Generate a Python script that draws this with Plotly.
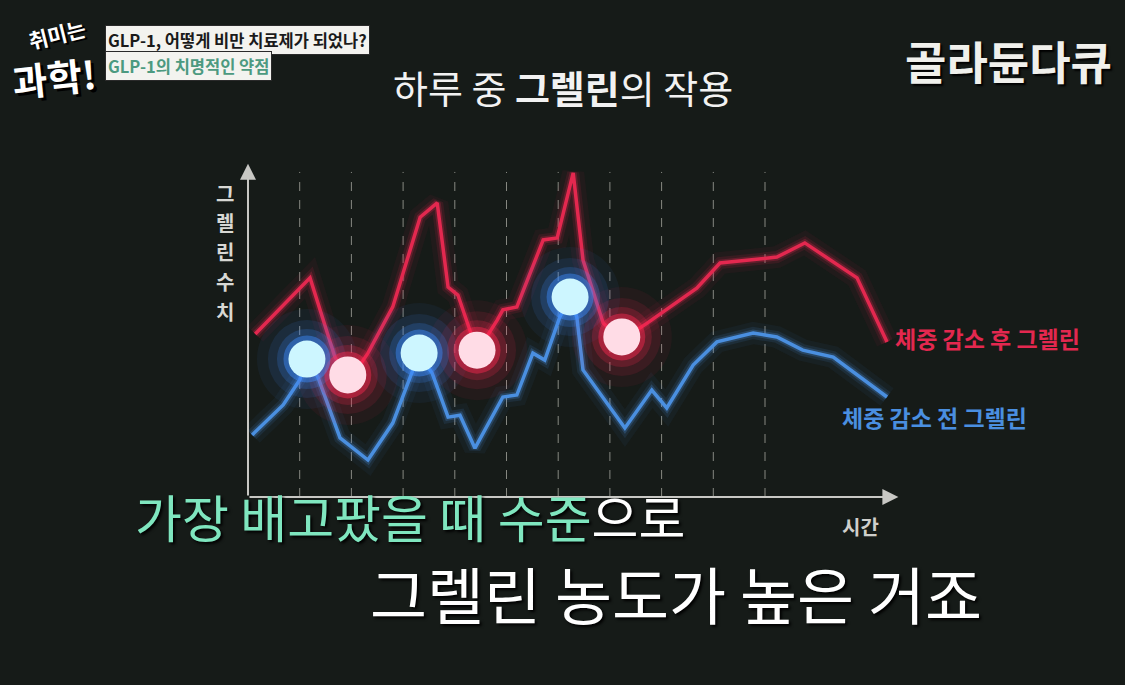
import plotly.graph_objects as go

W, H = 1125, 685
BG = "#161b18"
FONT = "Noto Sans CJK KR"

# ---- data (time units, ghrelin level 0-100) ----
red_x = [0.14, 1.20, 1.68, 1.97, 2.32, 2.80, 3.33, 3.66, 3.87, 4.06, 4.29, 4.43, 4.82, 4.93, 5.20,
         5.71, 5.98, 6.29, 6.48, 6.87, 7.23, 7.72, 8.68, 9.13, 10.23, 10.77, 11.78, 12.36]
red_y = [49.4, 66.4, 42.4, 35.5, 43.6, 57.6, 84.8, 89.1, 63.6, 61.2, 50.6, 43.9, 53.6, 56.7, 57.6,
         77.9, 78.5, 98.2, 71.8, 52.7, 47.6, 52.7, 63.3, 70.9, 72.7, 77.0, 66.4, 47.0]
blue_x = [0.08, 0.68, 1.00, 1.14, 1.35, 1.78, 2.32, 2.80, 3.19, 3.31, 3.56, 3.87, 4.10, 4.39, 4.93,
          5.20, 5.51, 5.74, 6.03, 6.23, 6.36, 6.48, 7.29, 7.81, 8.10, 8.61, 9.07, 9.77, 10.23, 10.73,
          11.32, 12.36]
blue_y = [18.8, 27.9, 35.5, 41.8, 36.4, 17.9, 11.2, 22.4, 38.5, 43.0, 37.6, 24.2, 24.8, 14.8, 30.3,
          30.9, 43.6, 41.5, 54.5, 60.6, 54.5, 38.5, 20.9, 32.4, 27.0, 40.0, 47.0, 49.7, 48.5, 44.5,
          42.4, 30.3]
blue_dot_x = [1.14, 3.31, 6.23]
blue_dot_y = [41.8, 43.6, 60.6]
pink_dot_x = [1.93, 4.43, 7.23]
pink_dot_y = [37.0, 44.5, 48.5]
grid_x = [1, 2, 3, 4, 5, 6, 7, 8, 9, 10]
ylabel_chars = ["그", "렐", "린", "수", "치"]

title = "하루 중 <b>그렐린</b>의 작용"
red_label = "체중 감소 후 그렐린"
blue_label = "체중 감소 전 그렐린"
x_label = "시간"
sub1_green = "가장 배고팠을 때 수준"
sub1_white = "으로"
sub2 = "그렐린 농도가 높은 거죠"
tag1 = "GLP-1, 어떻게 비만 치료제가 되었나?"
tag2 = "GLP-1의 치명적인 약점"
brand = "골라듄다큐"
logo_top = "취미는"
logo_bottom = "과학!"

RED = "#e3284f"
BLUE = "#4a8fe0"

fig = go.Figure()

# glow under lines
for w, a in [(22, 0.06), (12, 0.12), (7, 0.25)]:
    fig.add_trace(go.Scatter(x=red_x, y=red_y, mode="lines",
                             line=dict(color=f"rgba(227,40,79,{a})", width=w), hoverinfo="skip"))
    fig.add_trace(go.Scatter(x=blue_x, y=blue_y, mode="lines",
                             line=dict(color=f"rgba(74,143,224,{a})", width=w), hoverinfo="skip"))
fig.add_trace(go.Scatter(x=red_x, y=red_y, mode="lines", line=dict(color=RED, width=3.5)))
fig.add_trace(go.Scatter(x=blue_x, y=blue_y, mode="lines", line=dict(color=BLUE, width=3.5)))

# glowing dots
for size, a in [(100, 0.06), (78, 0.11), (60, 0.2), (47, 0.45)]:
    fig.add_trace(go.Scatter(x=pink_dot_x, y=pink_dot_y, mode="markers",
                             marker=dict(size=size, color=f"rgba(255,40,80,{a})", line=dict(width=0))))
    fig.add_trace(go.Scatter(x=blue_dot_x, y=blue_dot_y, mode="markers",
                             marker=dict(size=size, color=f"rgba(60,140,255,{a})", line=dict(width=0))))
fig.add_trace(go.Scatter(x=pink_dot_x, y=pink_dot_y, mode="markers",
                         marker=dict(size=37, color="#ffdce6", line=dict(width=0))))
fig.add_trace(go.Scatter(x=blue_dot_x, y=blue_dot_y, mode="markers",
                         marker=dict(size=37, color="#cdf6ff", line=dict(width=0))))

shapes = []
for gx in grid_x:
    shapes.append(dict(type="line", xref="x", yref="y", x0=gx, x1=gx, y0=0, y1=98.5,
                       line=dict(color="rgba(210,210,200,0.6)", width=1, dash="dash"), layer="below"))

annotations = []
# axes with arrows
annotations.append(dict(x=0, y=101, ax=0, ay=0, xref="x", yref="y", axref="x", ayref="y",
                        showarrow=True, arrowhead=2, arrowsize=1.6, arrowwidth=2,
                        arrowcolor="#c8c8c4", text=""))
annotations.append(dict(x=12.58, y=0, ax=0, ay=0, xref="x", yref="y", axref="x", ayref="y",
                        showarrow=True, arrowhead=2, arrowsize=1.6, arrowwidth=2,
                        arrowcolor="#c8c8c4", text=""))


def px(x, y):
    return x / W, 1 - y / H


def txt(t, x, y, size, color, xanchor="center", bold=False, bg=None, shadow=None, pad=0, angle=0):
    X, Y = px(x, y)
    a = dict(text=t, x=X, y=Y, xref="paper", yref="paper", showarrow=False,
             xanchor=xanchor, yanchor="middle", textangle=angle,
             font=dict(family=FONT, size=size, color=color, weight=700 if bold else 400))
    if shadow:
        a["font"]["shadow"] = shadow
    if bg:
        a["bgcolor"] = bg
        a["borderpad"] = pad
        a["bordercolor"] = "#2a2a2a"
        a["borderwidth"] = 1
    annotations.append(a)


txt(title, 563, 86, 38, "#f2f2f2")
for i, ch in enumerate(ylabel_chars):
    txt(ch, 225, 193 + i * 29.5, 20, "#d8d8d4", bold=True)
txt(x_label, 860, 526, 20, "#cfcfcb", bold=True)
txt(red_label, 893, 338, 23, RED, xanchor="left", bold=True)
txt(blue_label, 840, 417, 23, BLUE, xanchor="left", bold=True)
txt(f"<span style='color:#7fe6bf'>{sub1_green}</span>{sub1_white}", 133, 516, 51, "#ffffff",
    xanchor="left", shadow="2px 2px 3px #000")
txt(sub2, 676, 593, 62, "#ffffff", shadow="2px 2px 3px #000")
txt(tag1, 105, 40, 16.5, "#1a1a1a", xanchor="left", bold=True, bg="#f3f3ef", pad=2)
txt(tag2, 105, 66, 16.5, "#4c9a80", xanchor="left", bold=True, bg="#f3f3ef", pad=2)
txt(brand, 1008, 60, 45, "#f0f0ec", bold=True, shadow="2px 2px 2px #000")
# program logo
txt(f"<b>{logo_top}</b>", 57, 34, 21, "#ffffff", angle=-14, shadow="2px 2px 0px #000")
txt(f"<b>{logo_bottom}</b>", 54, 76, 38, "#ffffff", angle=-6, shadow="3px 3px 0px #000")

fig.update_layout(
    width=W, height=H, margin=dict(l=0, r=0, t=0, b=0),
    paper_bgcolor=BG, plot_bgcolor="rgba(0,0,0,0)", showlegend=False,
    xaxis=dict(domain=[248 / W, 920 / W], range=[0, (920 - 248) / 51.7], visible=False, fixedrange=True),
    yaxis=dict(domain=[1 - 497 / H, 1 - 160 / H], range=[0, (497 - 160) / 3.3], visible=False, fixedrange=True),
    shapes=shapes, annotations=annotations,
)
fig.write_html("out.html", config={"displayModeBar": False},
               post_script="document.body.style.margin='0';document.body.style.background='#161b18';"
                           "document.body.style.overflow='hidden';")
